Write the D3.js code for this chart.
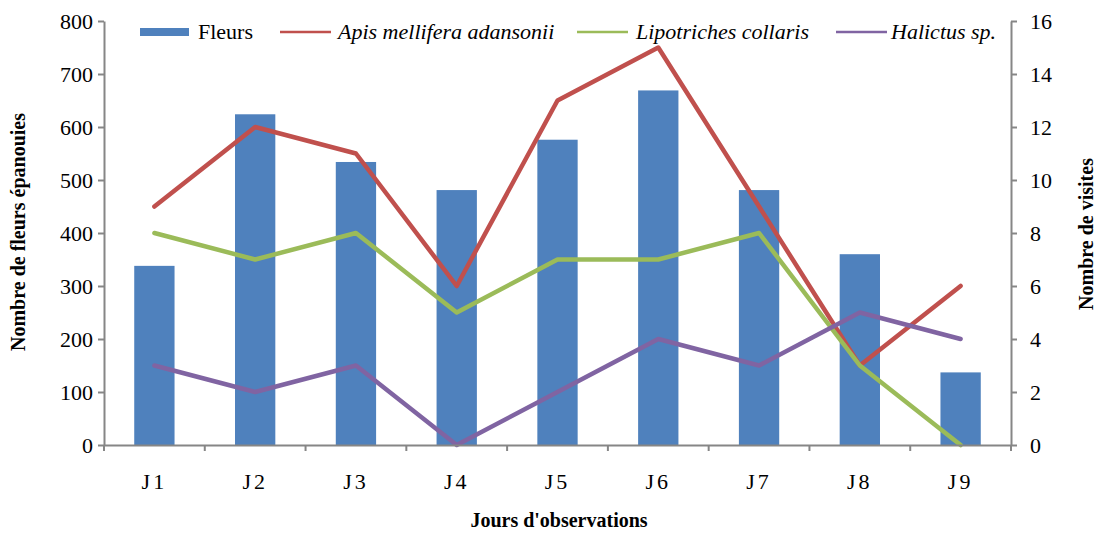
<!DOCTYPE html>
<html><head><meta charset="utf-8">
<script src="https://cdn.jsdelivr.net/npm/d3@7"></script>
<style>body{margin:0;background:#fff}svg{display:block}</style>
</head><body><svg id="c" width="1099" height="533"></svg>
<script>
const days = ["J1","J2","J3","J4","J5","J6","J7","J8","J9"];
const fleurs = [338, 624, 534, 481, 576, 669, 481, 360, 137];
const apis = [9, 12, 11, 6, 13, 15, 9, 3, 6];
const lipotriches = [8, 7, 8, 5, 7, 7, 8, 3, 0];
const halictus = [3, 2, 3, 0, 2, 4, 3, 5, 4];
const leftTicks = [0,100,200,300,400,500,600,700,800];
const rightTicks = [0,2,4,6,8,10,12,14,16];
const seriesNames = ["Apis mellifera adansonii","Lipotriches collaris","Halictus sp."];

const FONT = "Liberation Serif, Tinos, Times New Roman, Times, DejaVu Serif, serif";
const svg = d3.select("#c");
const L = 104, R = 1011, T = 21, B = 445;
const x = d3.scaleBand().domain(days).range([L, R]).paddingInner(0.6).paddingOuter(0.3);
const xb = d3.scaleBand().domain(days).range([L, R]);
const yL = d3.scaleLinear().domain([0, 800]).range([B, T]);
const yR = d3.scaleLinear().domain([0, 16]).range([B, T]);
const axisCol = "#868686";

// bars
svg.append("g").selectAll("rect").data(fleurs).join("rect")
  .attr("x", (d,i) => x(days[i])).attr("width", x.bandwidth())
  .attr("y", d => yL(d)).attr("height", d => B - yL(d))
  .attr("fill", "#4f81bd");

// lines
const series = [
  {name: seriesNames[0], vals: apis, color: "#c0504d"},
  {name: seriesNames[1], vals: lipotriches, color: "#9bbb59"},
  {name: seriesNames[2], vals: halictus, color: "#8064a2"}
];
const line = d3.line().x((d,i) => xb(days[i]) + xb.bandwidth()/2).y(d => yR(d));
series.forEach(s => {
  svg.append("path").attr("d", line(s.vals)).attr("fill","none")
    .attr("stroke", s.color).attr("stroke-width", 4.5)
    .attr("stroke-linejoin","round").attr("stroke-linecap","round");
});

// axes
function styleAxis(g){
  g.attr("font-family", FONT).attr("font-size", 22);
  g.selectAll(".domain").attr("stroke", axisCol).attr("stroke-width", 2);
  g.selectAll(".tick line").attr("stroke", axisCol).attr("stroke-width", 2);
  g.selectAll("text").attr("fill", "#000");
}
const gl = svg.append("g").attr("transform", `translate(${L},0)`)
  .call(d3.axisLeft(yL).tickValues(leftTicks).tickSize(6).tickPadding(5).tickSizeOuter(0));
styleAxis(gl);
const gr = svg.append("g").attr("transform", `translate(${R},0)`)
  .call(d3.axisRight(yR).tickValues(rightTicks).tickSize(6).tickPadding(13).tickSizeOuter(0));
styleAxis(gr);
const gx = svg.append("g").attr("transform", `translate(0,${B})`)
  .call(d3.axisBottom(xb).tickSize(0).tickPadding(28));
styleAxis(gx);
gx.selectAll(".tick text").attr("dy", "0.71em").attr("letter-spacing", 3);
gx.selectAll(".bound").data(days.concat(["end"])).join("line")
  .attr("x1", (d,i) => L + i*xb.step()).attr("x2", (d,i) => L + i*xb.step())
  .attr("y1", 0).attr("y2", 6).attr("stroke", axisCol).attr("stroke-width", 2);

// axis titles
const tg = svg.append("g").attr("font-family", FONT).attr("font-weight","bold").attr("font-size",20);
tg.append("text").attr("transform", `translate(25,232) rotate(-90)`)
  .attr("text-anchor","middle").text("Nombre de fleurs épanouies");
tg.append("text").attr("transform", `translate(1093,234) rotate(-90)`)
  .attr("text-anchor","middle").text("Nombre de visites");
tg.append("text").attr("x", 559).attr("y", 527)
  .attr("text-anchor","middle").text("Jours d'observations");

// legend
const lg = svg.append("g").attr("font-family", FONT).attr("font-size", 22);
const ly = 32;
lg.append("rect").attr("x", 140).attr("y", ly-4).attr("width", 49).attr("height", 8).attr("fill","#4f81bd");
lg.append("text").attr("x", 198).attr("y", ly+7).text("Fleurs");
const legPos = [{lx: 280, tx: 338}, {lx: 577, tx: 636}, {lx: 836, tx: 891}];
series.forEach((s,i) => {
  lg.append("line").attr("x1", legPos[i].lx).attr("x2", legPos[i].lx+51).attr("y1", ly).attr("y2", ly)
    .attr("stroke", s.color).attr("stroke-width", 2.5);
  lg.append("text").attr("x", legPos[i].tx).attr("y", ly+7)
    .attr("font-style","italic").text(s.name);
});
</script></body></html>
